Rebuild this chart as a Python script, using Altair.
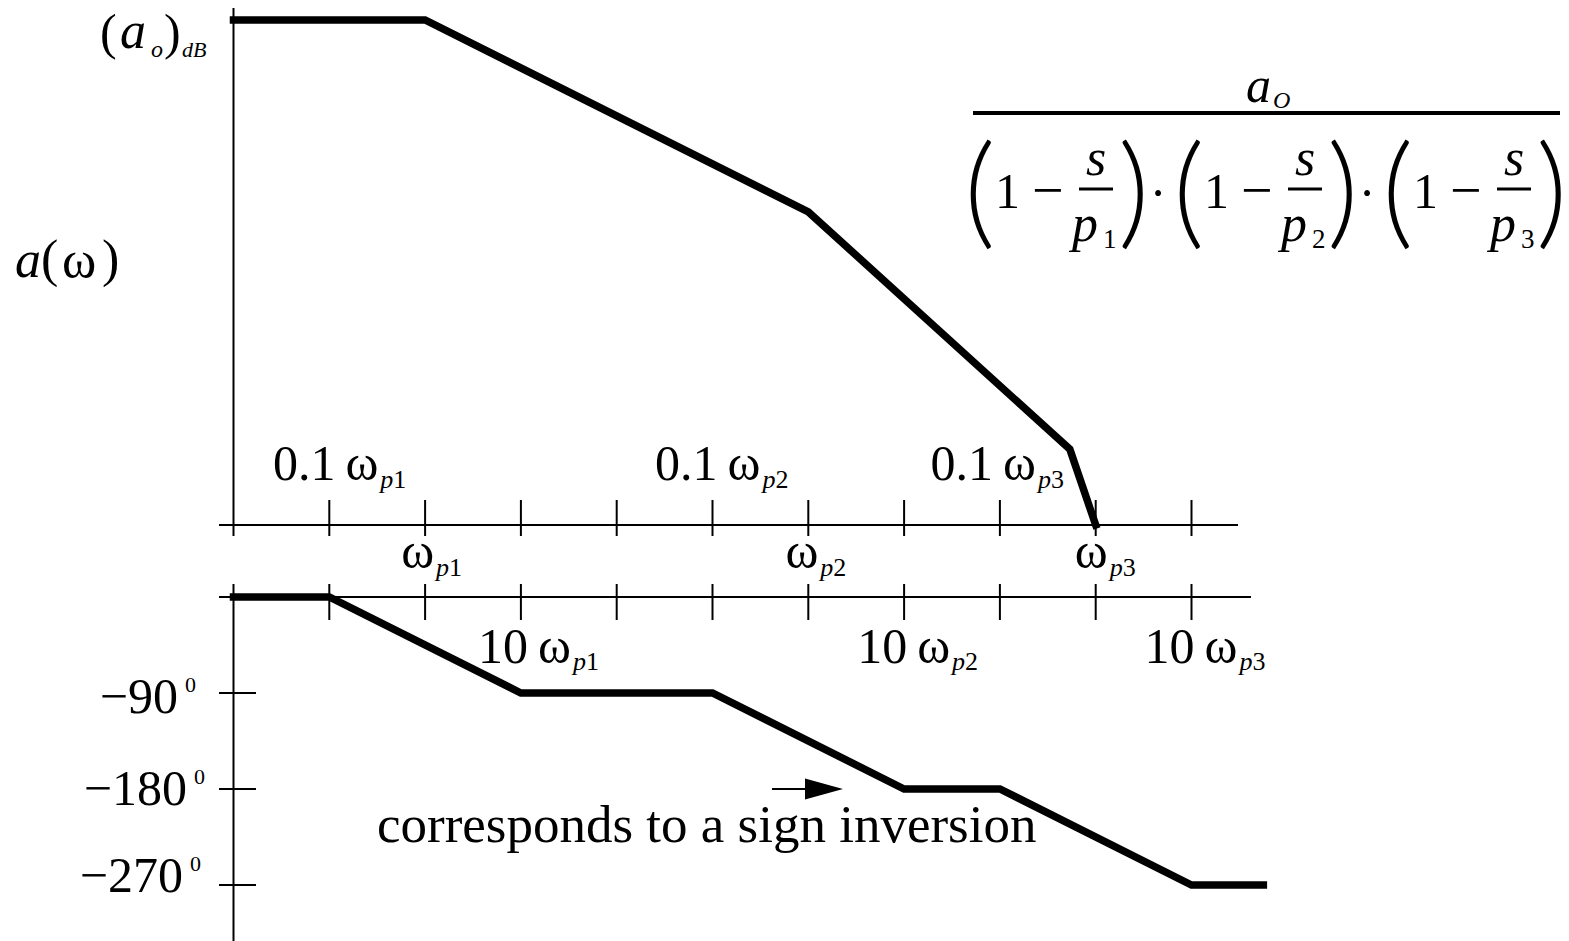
import altair as alt
import pandas as pd

# Asymptotic Bode plot of  a_o / ((1 - s/p1)(1 - s/p2)(1 - s/p3))
# Frequency axis: one unit per decade  (0.1wp1 = 1, wp1 = 2, 10wp1 = 3, ... 10wp3 = 10)

DECADE_TICKS = [1, 2, 3, 4, 5, 6, 7, 8, 9, 10]

# magnitude break points, as a fraction of (a_o)dB
MAG_W = [0.0, 2.0, 6.0, 8.73, 9.0]
MAG_LEVEL = [1.0, 1.0, 0.62, 0.15, 0.0]

# phase break points, degrees
PHASE_W = [0.0, 1.0, 3.0, 5.0, 7.0, 8.0, 10.0, 10.75]
PHASE_DEG = [0, 0, -90, -90, -180, -180, -270, -270]

PHASE_TICKS = [-90, -180, -270]
PHASE_TICK_TEXT = ["\u221290", "\u2212180", "\u2212270"]

POLES = ["1", "2", "3"]
TENTH_AT = [1, 5, 8]      # 0.1 wp
POLE_AT = [2, 6, 9]       # wp
TEN_AT = [3, 7, 10]       # 10 wp

# ---------------------------------------------------------------- layout
W, H = 1569, 941
TOP_H = 560
FONT = "Liberation Serif"
PAREN_FONT = "Lato"
X0_PX, PX_PER_DEC = 233.5, 95.8
MAG_TOP_PY, MAG_ZERO_PY = 20, 525
PHASE_ZERO_PY, PX_PER_DEG = 597, 96 / 90


def dec(px):
    return (px - X0_PX) / PX_PER_DEC


def lvl(py):
    return (MAG_ZERO_PY - py) / (MAG_ZERO_PY - MAG_TOP_PY)


def deg(py):
    return (PHASE_ZERO_PY - py) / PX_PER_DEG


X_SCALE = alt.Scale(domain=[dec(0), dec(W)], nice=False, zero=False)
MAG_SCALE = alt.Scale(domain=[lvl(TOP_H), lvl(0)], nice=False, zero=False)
PHASE_SCALE = alt.Scale(domain=[deg(H), deg(TOP_H)], nice=False, zero=False)


def rules(rows, yscale, width):
    df = pd.DataFrame(rows, columns=["x", "x2", "y", "y2"])
    return alt.Chart(df).mark_rule(color="black", strokeWidth=width).encode(
        x=alt.X("x:Q", scale=X_SCALE, axis=None),
        x2="x2:Q",
        y=alt.Y("y:Q", scale=yscale, axis=None),
        y2="y2:Q",
    )


def piece(text, x, y, size, italic=False, align="left", font=FONT, weight=400):
    return dict(text=text, x=x, y=y, size=size, italic=italic, align=align,
                font=font, weight=weight)


def texts(rows, yscale):
    df = pd.DataFrame(rows)
    layers = []
    for (italic, align, font, weight), sub in df.groupby(["italic", "align", "font", "weight"]):
        layers.append(
            alt.Chart(sub).mark_text(
                font=str(font),
                fontWeight=int(weight),
                fontStyle="italic" if bool(italic) else "normal",
                align=str(align),
                baseline="alphabetic",
                color="black",
            ).encode(
                x=alt.X("x:Q", scale=X_SCALE, axis=None),
                y=alt.Y("y:Q", scale=yscale, axis=None),
                text="text:N",
                size=alt.Size("size:Q", scale=None, legend=None),
            )
        )
    return layers


def freq_label(rows, at, main, shifts, conv, base_py, sub_py):
    # main part right-aligned at the junction, subscript "p" + pole index after it
    for k, s, pole in zip(at, shifts, POLES):
        j = k + s / PX_PER_DEC
        rows.append(piece(main, j, conv(base_py), 50, align="right"))
        rows.append(piece("p", j + 2 / PX_PER_DEC, conv(sub_py), 26, italic=True))
        rows.append(piece(pole, j + 15 / PX_PER_DEC, conv(sub_py), 26))


# ---------------------------------------------------------------- magnitude panel
mag_df = pd.DataFrame({"w": MAG_W, "level": MAG_LEVEL, "i": range(len(MAG_W))})
mag_line = alt.Chart(mag_df).mark_line(
    color="black", strokeWidth=7.5, strokeCap="square", strokeJoin="miter"
).encode(
    x=alt.X("w:Q", scale=X_SCALE, axis=None),
    y=alt.Y("level:Q", scale=MAG_SCALE, axis=None),
    order="i:Q",
)

top_axes = rules(
    [(dec(219), dec(1238), 0, 0), (0, 0, lvl(8), lvl(536))]
    + [(k, k, lvl(500), lvl(536)) for k in DECADE_TICKS],
    MAG_SCALE, 2,
)

GROUPS = [972, 1181, 1390]
formula_bar = rules([(dec(973), dec(1560), lvl(113), lvl(113))], MAG_SCALE, 4)
small_bars = rules(
    [(dec(g + 107), dec(g + 141), lvl(189), lvl(189)) for g in GROUPS], MAG_SCALE, 3
)

top_rows = []
freq_label(top_rows, TENTH_AT, "0.1\u2009\u03c9", [49, 48, 36], lvl, 480, 488)
freq_label(top_rows, POLE_AT, "\u03c9", [9, 10, 12], lvl, 568, 576)

# (a_o)dB and a(w)
top_rows += [
    piece("(", dec(100), lvl(49), 50),
    piece("a", dec(120), lvl(48), 52, italic=True),
    piece("o", dec(151), lvl(57), 24, italic=True),
    piece(")", dec(164), lvl(49), 50),
    piece("dB", dec(182), lvl(57), 22, italic=True),
    piece("a", dec(15), lvl(277), 52, italic=True),
    piece("(", dec(41), lvl(276), 52),
    piece("\u03c9", dec(62), lvl(277), 52),
    piece(")", dec(102), lvl(276), 52),
    piece("a", dec(1246), lvl(102), 50, italic=True),
    piece("O", dec(1273), lvl(108), 24, italic=True),
]
for n, (g, pole) in enumerate(zip(GROUPS, POLES)):
    top_rows += [
        piece("(", dec(g - 8), lvl(233), 122, font=PAREN_FONT, weight=300),
        piece("1", dec(g + 23), lvl(208), 50),
        piece("\u2212", dec(g + 60), lvl(209), 56),
        piece("s", dec(g + 124), lvl(175), 52, italic=True, align="center"),
        piece("p", dec(g + 113), lvl(241), 52, italic=True, align="center"),
        piece(pole, dec(g + 131), lvl(248), 27),
        piece(")", dec(g + 146), lvl(233), 122, font=PAREN_FONT, weight=300),
    ]
    if n < len(GROUPS) - 1:
        top_rows.append(piece("\u00b7", dec(g + 186), lvl(210), 50, align="center"))

top = alt.layer(
    top_axes, formula_bar, small_bars, mag_line, *texts(top_rows, MAG_SCALE)
).properties(width=W, height=TOP_H)

# ---------------------------------------------------------------- phase panel
ph_df = pd.DataFrame({"w": PHASE_W, "deg": PHASE_DEG, "i": range(len(PHASE_W))})
phase_line = alt.Chart(ph_df).mark_line(
    color="black", strokeWidth=7.5, strokeCap="square", strokeJoin="miter"
).encode(
    x=alt.X("w:Q", scale=X_SCALE, axis=None),
    y=alt.Y("deg:Q", scale=PHASE_SCALE, axis=None),
    order="i:Q",
)

bottom_axes = rules(
    [(dec(219), dec(1251), 0, 0), (0, 0, deg(584), deg(H))]
    + [(k, k, deg(584), deg(620)) for k in DECADE_TICKS]
    + [(dec(219), dec(256), d, d) for d in PHASE_TICKS]
    + [(dec(772), dec(806), -180, -180)],
    PHASE_SCALE, 2,
)

arrow_head = alt.Chart(pd.DataFrame({"x": [dec(824)], "y": [-180]})).mark_point(
    shape="M-1,-0.55L1,0L-1,0.55Z", filled=True, color="black", opacity=1, size=38 * 38
).encode(
    x=alt.X("x:Q", scale=X_SCALE, axis=None),
    y=alt.Y("y:Q", scale=PHASE_SCALE, axis=None),
)

bottom_rows = []
freq_label(bottom_rows, TEN_AT, "10\u2009\u03c9", [50, 46, 46], deg, 663, 670)
for txt, right_px, base_py in zip(PHASE_TICK_TEXT, [178, 187, 183], [713, 805, 892]):
    bottom_rows.append(piece(txt, dec(right_px), deg(base_py), 50, align="right"))
    bottom_rows.append(piece("0", dec(right_px + 7), deg(base_py - 21), 22))
bottom_rows.append(
    piece("corresponds to a sign inversion", dec(377), deg(842), 53)
)

bottom = alt.layer(
    bottom_axes, phase_line, arrow_head, *texts(bottom_rows, PHASE_SCALE)
).properties(width=W, height=H - TOP_H)

chart = alt.vconcat(
    top, bottom, spacing=0, bounds="flush", padding=0, background="white"
).configure_view(strokeWidth=0)

chart.save("out.html", embed_options={"renderer": "svg", "actions": False})
